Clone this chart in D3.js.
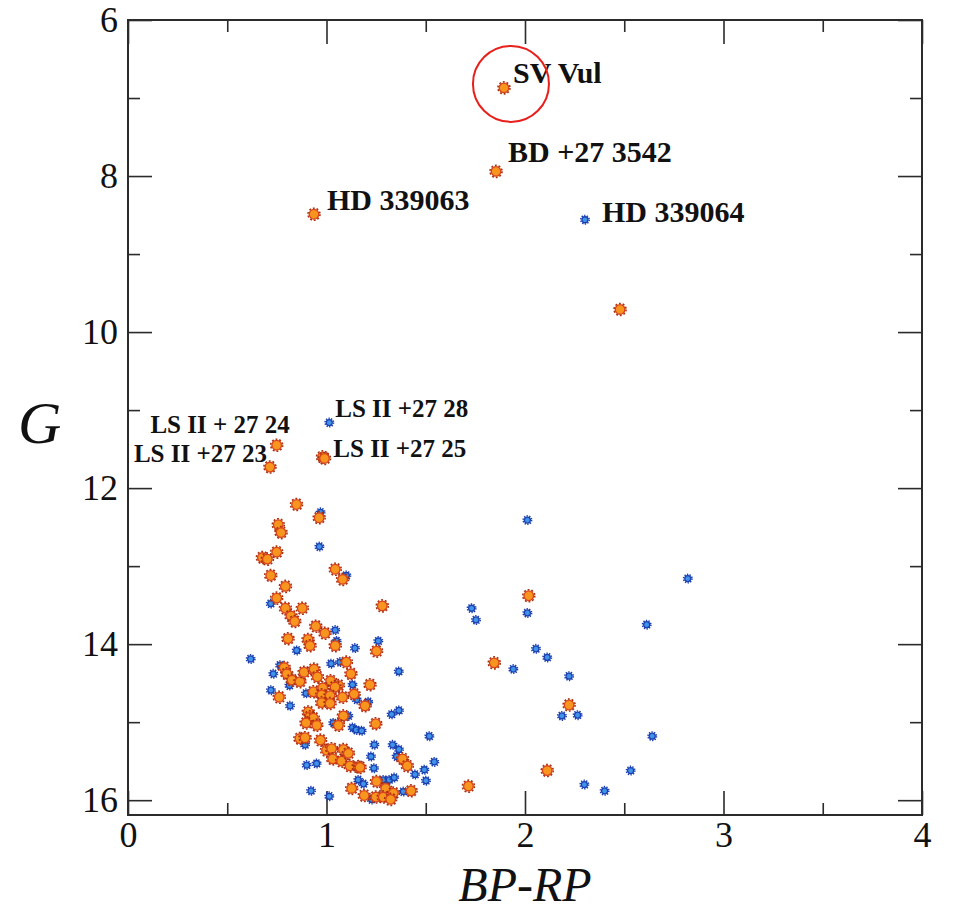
<!DOCTYPE html>
<html>
<head>
<meta charset="utf-8">
<script src="https://cdn.jsdelivr.net/npm/d3@7"></script>
<style>
  html, body { margin: 0; padding: 0; background: #ffffff; }
  svg { display: block; }
  text { font-family: 'Liberation Serif', 'Times New Roman', serif; }
</style>
</head>
<body>
<svg id="chart" width="954" height="913"></svg>
<script>
// ---------------- DATA ----------------
// Orange sample: [BP-RP, G]
const orangeStars = [
  [1.894, 6.87], [1.854, 7.94], [0.937, 8.49], [2.479, 9.71],
  [0.749, 11.45], [0.715, 11.73], [0.980, 11.60], [0.990, 11.62],
  [0.849, 12.21], [0.963, 12.38], [0.757, 12.47], [0.771, 12.57],
  [0.677, 12.89], [0.702, 12.91], [0.749, 12.82], [1.044, 13.04],
  [1.081, 13.17], [0.719, 13.12], [0.793, 13.26], [0.749, 13.41],
  [0.793, 13.54], [0.878, 13.54], [0.821, 13.64], [0.840, 13.71],
  [0.946, 13.77], [0.992, 13.86], [0.806, 13.93], [0.907, 13.94],
  [0.917, 14.02], [1.044, 14.02],
  [1.100, 14.23], [0.787, 14.30], [0.800, 14.38], [0.826, 14.46],
  [0.866, 14.48], [0.887, 14.36], [0.937, 14.32], [0.954, 14.42],
  [1.021, 14.47], [1.060, 14.53], [1.123, 14.38], [0.762, 14.68],
  [0.934, 14.61], [0.981, 14.56], [1.043, 14.55], [0.976, 14.65],
  [1.018, 14.66], [1.081, 14.68], [1.139, 14.64], [0.976, 14.75],
  [1.018, 14.76], [0.908, 14.87], [0.917, 14.93], [0.934, 14.95],
  [0.897, 15.01], [0.951, 15.04], [1.085, 14.92], [1.060, 15.04],
  [0.866, 15.21], [0.892, 15.20], [0.970, 15.23], [1.000, 15.36],
  [1.026, 15.34], [1.085, 15.35], [1.031, 15.47], [1.076, 15.50],
  [1.110, 15.40], [1.118, 15.56], [1.160, 15.57], [1.127, 15.85],
  [1.281, 13.51], [1.252, 14.09], [1.219, 14.52], [1.194, 14.79],
  [1.248, 15.02], [1.383, 15.47], [1.169, 15.58], [1.407, 15.56],
  [1.252, 15.76], [1.298, 15.85], [1.337, 15.91], [1.426, 15.88],
  [1.190, 15.94], [1.249, 15.96], [1.286, 15.96], [1.323, 15.99],
  [1.715, 15.82],
  [2.019, 13.38], [1.845, 14.24], [2.222, 14.78], [2.112, 15.62]
];

// Blue sample: [BP-RP, G]
const blueStars = [
  [2.302, 8.56], [1.014, 11.16], [0.970, 12.31], [0.964, 12.75],
  [1.100, 13.12], [0.719, 13.48], [1.044, 13.82], [1.051, 13.96],
  [1.143, 14.05], [0.850, 14.08], [0.618, 14.19], [1.023, 14.25],
  [1.068, 14.23], [0.732, 14.38], [0.766, 14.27], [1.131, 14.52],
  [0.720, 14.59], [0.813, 14.53], [0.897, 14.63], [0.816, 14.79],
  [1.110, 14.92], [1.034, 15.01], [1.131, 15.07], [1.150, 15.10],
  [0.892, 15.29], [0.900, 15.55], [0.950, 15.53], [1.160, 15.74],
  [0.922, 15.88], [1.014, 15.95],
  [1.261, 13.96], [1.364, 14.35], [1.152, 14.71], [1.210, 14.74],
  [1.328, 14.90], [1.365, 14.85], [1.177, 15.11], [1.518, 15.18],
  [1.241, 15.29], [1.333, 15.29], [1.365, 15.35], [1.224, 15.44],
  [1.353, 15.44], [1.239, 15.59], [1.446, 15.67], [1.543, 15.51],
  [1.493, 15.61], [1.501, 15.75], [1.186, 15.79], [1.286, 15.74],
  [1.316, 15.74], [1.341, 15.71], [1.387, 15.89], [1.227, 15.99],
  [2.012, 12.41], [2.820, 13.16], [1.731, 13.54], [1.753, 13.69],
  [2.012, 13.60], [2.613, 13.75], [2.055, 14.06], [2.112, 14.17],
  [1.941, 14.32], [2.222, 14.41], [2.186, 14.92], [2.265, 14.91],
  [2.641, 15.18], [2.532, 15.62], [2.299, 15.80], [2.401, 15.88]
];

// Named stars: text and the star they point to
const labelNames  = ["SV Vul", "BD +27 3542", "HD 339063", "HD 339064",
                     "LS II +27 28", "LS II + 27 24", "LS II +27 23", "LS II +27 25"];
const labelBP     = [1.894, 1.854, 0.937, 2.302, 1.014, 0.749, 0.715, 0.984];
const labelG      = [6.87, 7.94, 8.49, 8.56, 11.16, 11.45, 11.73, 11.61];

const xMajorTicks = [0, 1, 2, 3, 4];
const xMinorTicks = [0.5, 1.5, 2.5, 3.5];
const yMajorTicks = [6, 8, 10, 12, 14, 16];
const yMinorTicks = [7, 9, 11, 13, 15];

// ---------------- LAYOUT ----------------
const svg = d3.select("#chart");
const L = 128, R = 922, T = 20, B = 815;
const x = d3.scaleLinear().domain([0, 4]).range([L, R]);
const y = d3.scaleLinear().domain([6, 16.19]).range([T, B]);

const frameColor = "#2b2b2b";
const serif = "'Liberation Serif', 'Times New Roman', serif";

// axes (ticks inward on all sides)
function styleAxis(g) {
  g.attr("font-family", serif).attr("font-size", 36);
  g.select(".domain").remove();
  g.selectAll(".tick line").attr("stroke", frameColor).attr("stroke-width", 1.6);
  g.selectAll(".tick text").attr("fill", "#111");
}
svg.append("g").attr("transform", `translate(0,${B})`)
  .call(d3.axisBottom(x).tickValues(xMajorTicks).tickFormat(d3.format("d")).tickSize(-24).tickPadding(6))
  .call(styleAxis);
svg.append("g").attr("transform", `translate(0,${B})`)
  .call(d3.axisBottom(x).tickValues(xMinorTicks).tickFormat("").tickSize(-12))
  .call(styleAxis);
svg.append("g").attr("transform", `translate(0,${T})`)
  .call(d3.axisTop(x).tickValues(xMajorTicks).tickFormat("").tickSize(-24))
  .call(styleAxis);
svg.append("g").attr("transform", `translate(0,${T})`)
  .call(d3.axisTop(x).tickValues(xMinorTicks).tickFormat("").tickSize(-12))
  .call(styleAxis);
svg.append("g").attr("transform", `translate(${L},0)`)
  .call(d3.axisLeft(y).tickValues(yMajorTicks).tickFormat(d3.format("d")).tickSize(-24).tickPadding(10))
  .call(styleAxis);
svg.append("g").attr("transform", `translate(${L},0)`)
  .call(d3.axisLeft(y).tickValues(yMinorTicks).tickFormat("").tickSize(-12))
  .call(styleAxis);
svg.append("g").attr("transform", `translate(${R},0)`)
  .call(d3.axisRight(y).tickValues(yMajorTicks).tickFormat("").tickSize(-24))
  .call(styleAxis);
svg.append("g").attr("transform", `translate(${R},0)`)
  .call(d3.axisRight(y).tickValues(yMinorTicks).tickFormat("").tickSize(-12))
  .call(styleAxis);

// frame
svg.append("rect")
  .attr("x", L).attr("y", T).attr("width", R - L).attr("height", B - T)
  .attr("fill", "none").attr("stroke", frameColor).attr("stroke-width", 2);

// axis titles
svg.append("text")
  .attr("x", (L + R) / 2).attr("y", 901)
  .attr("text-anchor", "middle")
  .attr("font-family", serif).attr("font-style", "italic").attr("font-size", 48)
  .attr("fill", "#111").text("BP-RP");
svg.append("text")
  .attr("x", 18).attr("y", 443)
  .attr("font-family", serif).attr("font-style", "italic").attr("font-size", 60)
  .attr("fill", "#111").text("G");

// ---------------- MARKERS ----------------
function drawStars(data, r, fill, stroke, spike) {
  const g = svg.append("g");
  const nodes = g.selectAll("g.star").data(data).join("g")
    .attr("class", "star")
    .attr("transform", d => `translate(${x(d[0])},${y(d[1])})`);
  // serrated outline
  const ringR = r + 1.2;
  const circ = 2 * Math.PI * ringR;
  nodes.append("circle").attr("r", ringR)
    .attr("fill", "none").attr("stroke", spike).attr("stroke-width", 1.6)
    .attr("stroke-dasharray", `${circ / 20} ${circ / 20}`);
  nodes.append("circle").attr("r", r)
    .attr("fill", fill).attr("stroke", stroke).attr("stroke-width", 1.3);
}
drawStars(blueStars, 3.0, "#3f93e8", "#1b3fb0", "#1b3fb0");
drawStars(orangeStars, 4.8, "#f7951f", "#d8421b", "#a8300f");

// ---------------- LABELS ----------------
// pixel offsets and anchors of each label relative to its star
const labelDX = [9, 12, 13, 17, 6, 13, -3, 10];
const labelDY = [-5, -9, -4, 2, -6, -12, -5, -1];
const labelAnchor = ["start", "start", "start", "start", "start", "end", "end", "start"];
const labelSize = [30, 30, 30, 30, 25, 25, 25, 25];

labelNames.forEach((t, i) => {
  svg.append("text")
    .attr("x", x(labelBP[i]) + labelDX[i])
    .attr("y", y(labelG[i]) + labelDY[i])
    .attr("text-anchor", labelAnchor[i])
    .attr("font-family", serif).attr("font-weight", "bold")
    .attr("font-size", labelSize[i]).attr("fill", "#111")
    .text(t);
});

// red circle highlighting SV Vul
svg.append("circle")
  .attr("cx", x(labelBP[0]) + 7).attr("cy", y(labelG[0]) - 4)
  .attr("r", 38)
  .attr("fill", "none").attr("stroke", "#e8201c").attr("stroke-width", 2);
</script>
</body>
</html>
